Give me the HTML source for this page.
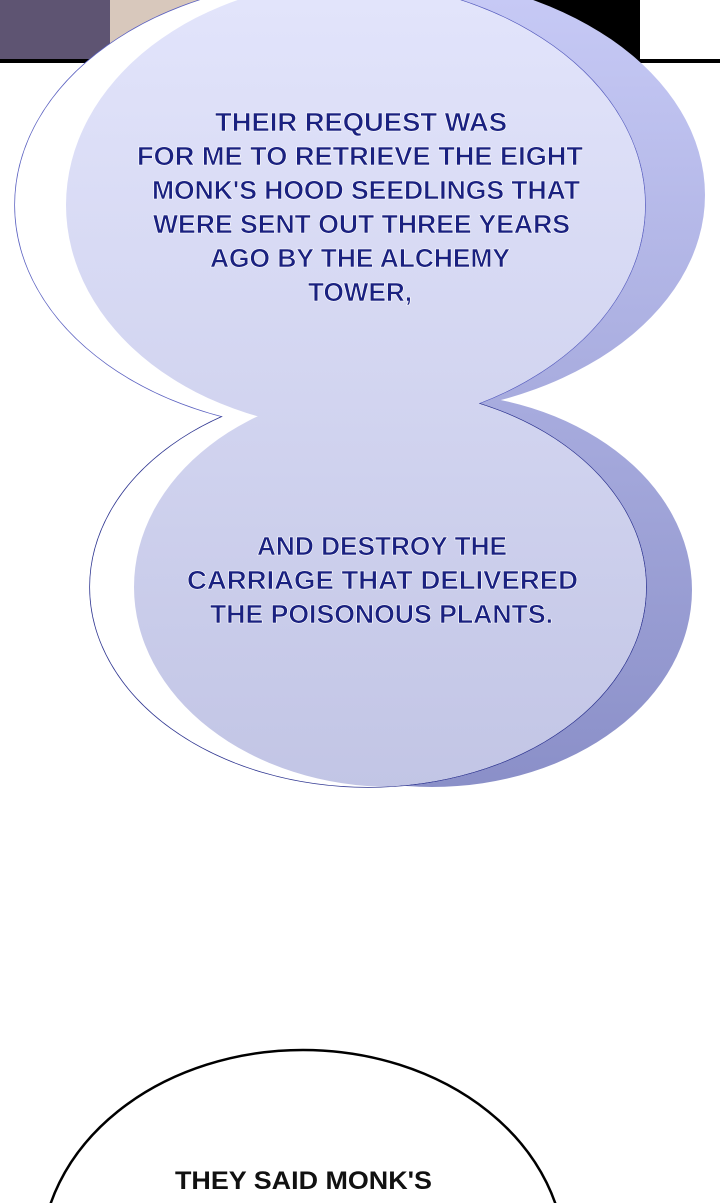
<!DOCTYPE html>
<html><head><style>
html,body{margin:0;padding:0;background:#fff;overflow:hidden;}
svg{display:block;}
text{font-family:"Liberation Sans",sans-serif;font-weight:bold;}
</style></head><body>
<svg width="720" height="1203" viewBox="0 0 720 1203" xmlns="http://www.w3.org/2000/svg">
<defs>
<linearGradient id="g2" x1="0" y1="0" x2="0" y2="790" gradientUnits="userSpaceOnUse">
<stop offset="0" stop-color="#e2e4fb"/><stop offset="1" stop-color="#c2c5e5"/>
</linearGradient>
<linearGradient id="s" x1="0" y1="0" x2="0" y2="790" gradientUnits="userSpaceOnUse">
<stop offset="0" stop-color="#c6c9f5"/><stop offset="1" stop-color="#8a8fc8"/>
</linearGradient>
<clipPath id="oc">
<ellipse cx="330" cy="205" rx="315" ry="225"/>
<ellipse cx="368" cy="587" rx="278" ry="200"/>
</clipPath>
</defs>
<rect x="0" y="0" width="120" height="62" fill="#5e5472"/>
<rect x="110" y="0" width="300" height="62" fill="#d8c8bc"/>
<rect x="410" y="0" width="230" height="62" fill="#000"/>
<rect x="0" y="59" width="720" height="4" fill="#000"/>
<ellipse cx="385" cy="195" rx="320" ry="220" fill="url(#s)"/>
<ellipse cx="432" cy="590" rx="260" ry="197" fill="url(#s)"/>
<ellipse cx="330" cy="205" rx="315" ry="225" fill="#fff" stroke="#5a60c0" stroke-width="1.5"/>
<ellipse cx="368" cy="587" rx="278" ry="200" fill="#fff" stroke="#2d3490" stroke-width="1.5"/>
<ellipse cx="330" cy="205" rx="315" ry="225" fill="#fff"/>
<ellipse cx="368" cy="587" rx="278" ry="200" fill="#fff"/>
<g clip-path="url(#oc)" fill="url(#g2)">
<ellipse cx="358" cy="205" rx="292" ry="225"/>
<ellipse cx="392" cy="587" rx="258" ry="200"/>
</g>
<g fill="#1a2180" font-size="26" stroke="#fff" stroke-width="0.6" lengthAdjust="spacingAndGlyphs">
<text x="215" y="131" textLength="292" lengthAdjust="spacingAndGlyphs">THEIR REQUEST WAS</text>
<text x="137" y="165" textLength="446" lengthAdjust="spacingAndGlyphs">FOR ME TO RETRIEVE THE EIGHT</text>
<text x="152" y="199" textLength="428" lengthAdjust="spacingAndGlyphs">MONK'S HOOD SEEDLINGS THAT</text>
<text x="153" y="233" textLength="417" lengthAdjust="spacingAndGlyphs">WERE SENT OUT THREE YEARS</text>
<text x="210" y="267" textLength="300" lengthAdjust="spacingAndGlyphs">AGO BY THE ALCHEMY</text>
<text x="308" y="301" textLength="104" lengthAdjust="spacingAndGlyphs">TOWER,</text>
<text x="257" y="555" textLength="250" lengthAdjust="spacingAndGlyphs">AND DESTROY THE</text>
<text x="187" y="589" textLength="391" lengthAdjust="spacingAndGlyphs">CARRIAGE THAT DELIVERED</text>
<text x="210" y="623" textLength="343" lengthAdjust="spacingAndGlyphs">THE POISONOUS PLANTS.</text>
</g>
<ellipse cx="303" cy="1260" rx="262" ry="210" fill="#fff" stroke="#000" stroke-width="2.5"/>
<text x="175" y="1189" font-size="25" textLength="257" lengthAdjust="spacingAndGlyphs" fill="#111">THEY SAID MONK'S</text>
</svg>
</body></html>
